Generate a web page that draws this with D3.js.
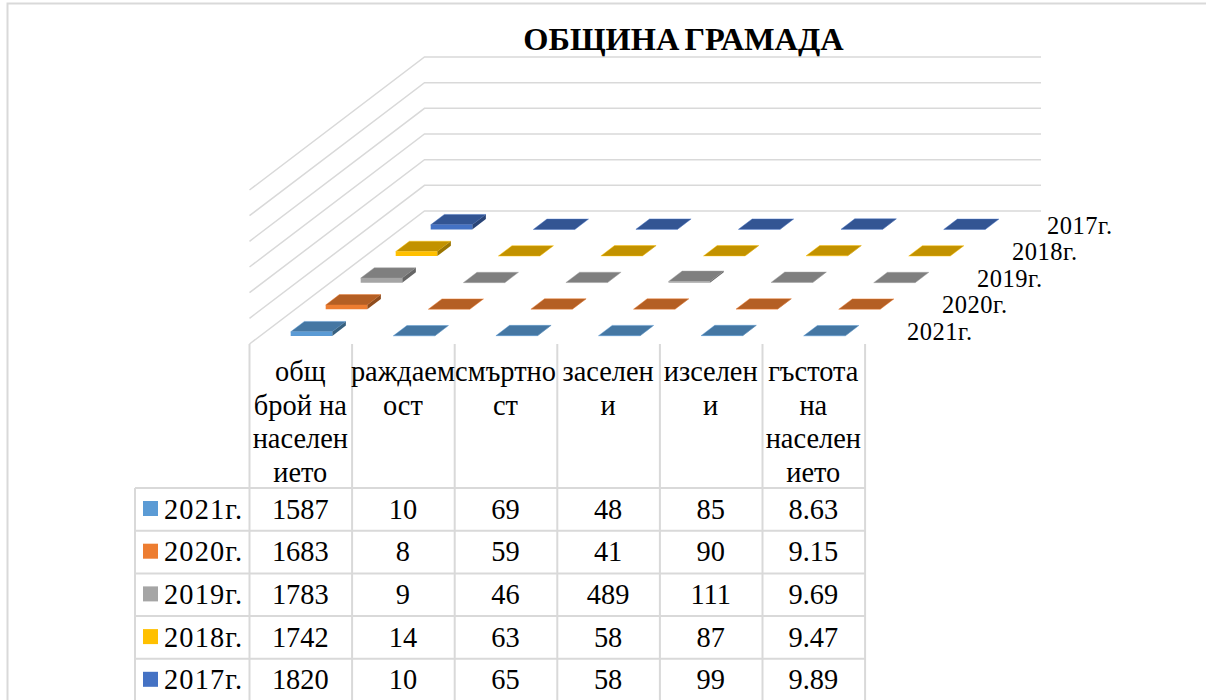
<!DOCTYPE html>
<html>
<head>
<meta charset="utf-8">
<script src="https://cdn.jsdelivr.net/npm/d3@7/dist/d3.min.js"></script>
<style>
html,body{margin:0;padding:0;background:#fff;overflow:hidden}
text{font-family:"Liberation Serif",serif;fill:#000}
</style>
</head>
<body>
<svg id="c" width="1206" height="700"></svg>
<script>
const titleText = "ОБЩИНА ГРАМАДА";
const categories = ["общ брой на население", "раждаемост", "смъртност", "заселени", "изселени", "гъстота на население"];
const categoryLines = [
  ["общ", "брой на", "населен", "ието"],
  ["раждаем", "ост"],
  ["смъртно", "ст"],
  ["заселен", "и"],
  ["изселен", "и"],
  ["гъстота", "на", "населен", "ието"]
];
const seriesNames = ["2021г.", "2020г.", "2019г.", "2018г.", "2017г."];
const values2021 = [1587, 10, 69, 48, 85, 8.63];
const values2020 = [1683, 8, 59, 41, 90, 9.15];
const values2019 = [1783, 9, 46, 489, 111, 9.69];
const values2018 = [1742, 14, 63, 58, 87, 9.47];
const values2017 = [1820, 10, 65, 58, 99, 9.89];
const seriesValues = [values2021, values2020, values2019, values2018, values2017];
const frontColors = ["#5b9bd5", "#ed7d31", "#a5a5a5", "#ffc000", "#4472c4"];
const topColors = ["#4577a3", "#b45f24", "#7f7f7f", "#c29200", "#335593"];
const sideColors = ["#37607f", "#8f4c1d", "#666666", "#9a7500", "#294477"];
const yTicks = d3.range(0, 60001, 10000);

const gridColor = "#d9d9d9";
const svg = d3.select("#c");

// chart frame
svg.append("path").attr("d", "M1206,3.5H7.5V700").attr("fill", "none").attr("stroke", gridColor).attr("stroke-width", 2);

// title
svg.append("text").attr("x", 683.5).attr("y", 50).attr("text-anchor", "middle")
  .attr("font-size", 32.4).attr("font-weight", "bold").attr("word-spacing", -3).text(titleText);

// scales
const plotLeft = 249.5, cellW = 102.6, floorFront = 344, floorBack = 211, wallTop = 57;
const depthX = 175, depthY = floorFront - floorBack;
const xs = d3.scaleBand().domain(categories).range([plotLeft, plotLeft + cellW * categories.length]).paddingInner(0.595).paddingOuter(0.2975);
const xCell = d3.scaleBand().domain(categories).range([plotLeft, plotLeft + cellW * categories.length]);
const ds = d3.scaleBand().domain(seriesNames).range([0, depthY]).paddingInner(0.61).paddingOuter(0.305);
const dCell = d3.scaleBand().domain(seriesNames).range([0, depthY]);
const ys = d3.scaleLinear().domain([0, 60000]).range([0, floorBack - wallTop]);
const skew = depthX / depthY;
const px = (x, d) => x + d * skew;
const py = (d, v) => floorFront - d - ys(v);

// walls
const wall = svg.append("g").attr("fill", "none").attr("stroke", gridColor).attr("stroke-width", 1.5);
wall.selectAll("path").data(yTicks).join("path")
  .attr("d", t => `M${px(plotLeft, 0)},${py(0, t)}L${px(plotLeft, depthY)},${py(depthY, t)}H1041`);

// bars, back series first
const bars = svg.append("g");
seriesNames.map((s, i) => i).reverse().forEach(si => {
  const s = seriesNames[si];
  const d0 = ds(s), d1 = d0 + ds.bandwidth();
  categories.forEach((c, ci) => {
    const v = seriesValues[si][ci];
    const x0 = xs(c), x1 = x0 + xs.bandwidth();
    const g = bars.append("g");
    const edge = {stroke: frontColors[si], "stroke-opacity": 0.45, "stroke-width": 1};
    const poly = (pts, fill, stroked) => {
      const p = g.append("polygon").attr("points", pts.map(q => q.join(",")).join(" ")).attr("fill", fill);
      if (stroked) Object.entries(edge).forEach(([k, val]) => p.attr(k, val));
    };
    poly([[px(x0, d0), py(d0, v)], [px(x1, d0), py(d0, v)], [px(x1, d1), py(d1, v)], [px(x0, d1), py(d1, v)]], topColors[si], true);
    poly([[px(x1, d0), py(d0, 0)], [px(x1, d1), py(d1, 0)], [px(x1, d1), py(d1, v)], [px(x1, d0), py(d0, v)]], sideColors[si], false);
    poly([[px(x0, d0), py(d0, 0)], [px(x1, d0), py(d0, 0)], [px(x1, d0), py(d0, v)], [px(x0, d0), py(d0, v)]], frontColors[si], false);
  });
  // depth axis label
  svg.append("text").attr("x", 907 + dCell(s) * skew).attr("y", 340 - dCell(s))
    .attr("font-size", 24.5).attr("textLength", 65).attr("lengthAdjust", "spacing").text(s);
});

// data table
const tableLeft = 135, tableTop = 488, rowH = 42.7, headerTop = floorFront;
const colXs = categories.map(c => xCell(c)).concat([plotLeft + cellW * categories.length]);
const rowY = d3.scalePoint().domain(d3.range(seriesNames.length + 1)).range([tableTop, tableTop + rowH * seriesNames.length]);
const grid = svg.append("g").attr("stroke", gridColor).attr("stroke-width", 2);
grid.selectAll("line.v").data(colXs).join("line").attr("class", "v")
  .attr("x1", d => d).attr("x2", d => d).attr("y1", headerTop).attr("y2", 700);
grid.append("line").attr("x1", tableLeft).attr("x2", tableLeft).attr("y1", tableTop).attr("y2", 700);
grid.selectAll("line.h").data(d3.range(seriesNames.length + 1)).join("line").attr("class", "h")
  .attr("x1", tableLeft).attr("x2", colXs[colXs.length - 1]).attr("y1", i => rowY(i)).attr("y2", i => rowY(i));

const fs = 28.4;
// header
categories.forEach((c, ci) => {
  categoryLines[ci].forEach((line, li) => {
    svg.append("text").attr("x", xCell(c) + xCell.bandwidth() / 2 - 0.5).attr("y", 381 + li * 33.7)
      .attr("text-anchor", "middle").attr("font-size", fs).text(line);
  });
});
// rows
seriesNames.forEach((s, si) => {
  const top = rowY(si);
  svg.append("rect").attr("x", 143).attr("y", top + 13).attr("width", 15).attr("height", 15).attr("fill", frontColors[si]);
  svg.append("text").attr("x", 164).attr("y", top + 30.5).attr("font-size", fs)
    .attr("textLength", 78).attr("lengthAdjust", "spacing").text(s);
  categories.forEach((c, ci) => {
    svg.append("text").attr("x", xCell(c) + xCell.bandwidth() / 2 - 0.5).attr("y", top + 30.5)
      .attr("text-anchor", "middle").attr("font-size", fs).text(seriesValues[si][ci]);
  });
});
</script>
</body>
</html>
